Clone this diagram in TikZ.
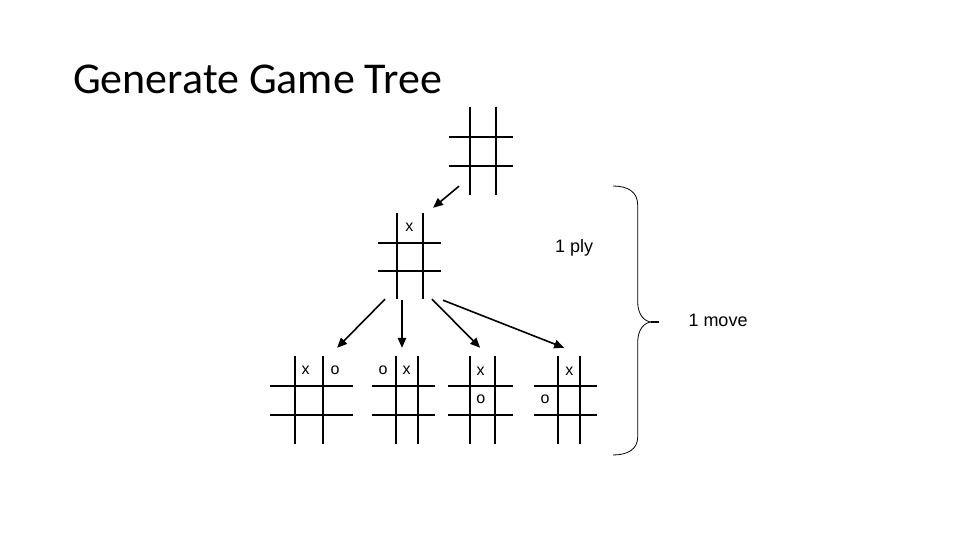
\documentclass[tikz,border=0pt]{standalone}
\usepackage{fontspec}
\setmainfont{Liberation Sans}
\newfontfamily\titlefont{Carlito}
\usetikzlibrary{arrows.meta,fit}

\tikzset{
  boardline/.style={line width=2.2pt},
  arr/.style={line width=1.6pt,-{Triangle[length=10pt,width=8.5pt]}},
  sym/.style={font=\fontsize{16}{16}\selectfont,inner sep=0pt},
  lbl/.style={font=\fontsize{18}{18}\selectfont,inner sep=0pt,anchor=base west},
}

% name, left, v1, v2, right, top, h1, h2, bottom
\newcommand{\board}[9]{%
  \node[inner sep=0pt,fit={(#2,#6) (#5,#9)}] (#1) {};
  \draw[boardline] (#3,#6) -- (#3,#9) (#4,#6) -- (#4,#9)
                   (#2,#7) -- (#5,#7) (#2,#8) -- (#5,#8);
}

\begin{document}
\begin{tikzpicture}[x=1pt,y=-1pt]
  \useasboundingbox (0,0) rectangle (960,540);

  \node[anchor=base west,inner sep=0pt,font=\titlefont\fontsize{44}{44}\selectfont] (title) at (73,94) {Generate Game Tree};

  \board{0}{449}{470}{496}{513}{107}{137}{166}{195}

  \board{1}{378}{397}{423}{441}{213}{243}{271}{299}
  \node[sym] (1x) at (409.3,227.3) {x};

  \board{2}{270}{295}{323}{353}{356}{386}{415}{444}
  \board{3}{372}{396}{418}{435}{356}{386}{415}{444}
  \board{4}{448}{470}{495}{513}{356}{386}{415}{444}
  \board{5}{534}{558}{580}{597}{356}{386}{415}{444}

  \node[sym] (2x) at (305.7,370) {x};
  \node[sym] (2o) at (335,370) {o};
  \node[sym] (3o) at (383,370) {o};
  \node[sym] (3x) at (406.7,370) {x};
  \node[sym] (4x) at (480.7,371.5) {x};
  \node[sym] (4o) at (480.7,399) {o};
  \node[sym] (5x) at (569.3,371.5) {x};
  \node[sym] (5o) at (545,399) {o};

  \node[lbl] (ply) at (555,252.5) {1 ply};
  \node[lbl] (move) at (688.3,326) {1 move};

  \draw[arr] ([shift={(-22,-9)}]0.south) -- ([shift={(23.5,-5)}]1.north);

  \draw[arr] ([shift={(-24.5,0)}]1.south) -- ([shift={(25.6,-8)}]2.north);
  \draw[arr] ([shift={(-7.5,1)}]1.south) -- ([shift={(-1.5,-8)}]3.north);
  \draw[arr] ([shift={(22.5,0)}]1.south) -- ([shift={(-0.3,-8)}]4.north);
  \draw[arr] ([shift={(33.5,1)}]1.south) -- ([shift={(-1.3,-8)}]5.north);

  % brace
  \draw[line width=0.8pt] (613,186) .. controls (628,186) and (637.7,192) .. (637.7,205)
    -- (637.7,302) .. controls (637.7,314) and (644,322) .. (652,322)
    .. controls (644,322) and (637.7,330) .. (637.7,342)
    -- (637.7,437) .. controls (637.7,449) and (628,455) .. (613,455);
  \draw[line width=1.4pt] (651,322) -- (659,322);
\end{tikzpicture}
\end{document}
